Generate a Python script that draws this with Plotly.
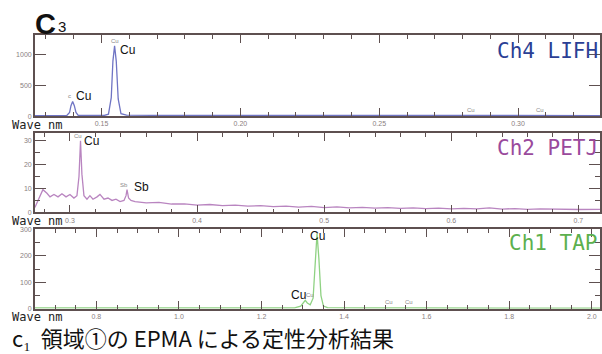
import plotly.graph_objects as go

# --- Ch4 LIFH spectrum (wavelength nm, counts) ---
lifh_nm = [0.126, 0.132, 0.1375, 0.1385, 0.1390, 0.1396, 0.1402, 0.1408, 0.1416, 0.146,
           0.151, 0.1525, 0.1535, 0.1541, 0.1547, 0.1553, 0.1560, 0.1570, 0.159, 0.170,
           0.200, 0.230, 0.260, 0.283, 0.300, 0.308, 0.3295]
lifh_cps = [8, 9, 10, 60, 170, 240, 170, 60, 12, 10,
            10, 30, 300, 900, 1150, 900, 280, 40, 14, 11,
            10, 9, 9, 10, 8, 9, 8]

# --- Ch2 PETJ spectrum ---
petj_nm = [0.2724, 0.2748, 0.2787, 0.2819, 0.2843, 0.2874, 0.2906, 0.2937, 0.2969, 0.3000,
           0.3031, 0.3055, 0.3071, 0.3083, 0.3094, 0.3110, 0.3134, 0.3157, 0.3181, 0.3213,
           0.3236, 0.3268, 0.3299, 0.3331, 0.3362, 0.3394, 0.3425, 0.3441, 0.3449, 0.3461,
           0.3480, 0.3512, 0.360, 0.370, 0.380, 0.390, 0.400, 0.410, 0.420, 0.430,
           0.440, 0.450, 0.460, 0.470, 0.480, 0.490, 0.500, 0.510, 0.520, 0.530,
           0.540, 0.550, 0.560, 0.570, 0.580, 0.590, 0.600, 0.610, 0.620, 0.630,
           0.640, 0.650, 0.660, 0.670, 0.680, 0.690, 0.700, 0.717]
petj_cps = [2, 5, 9.5, 8, 6.5, 7.5, 6.5, 7.8, 6.5, 7.5,
            6, 7, 15, 30, 16, 7, 5.5, 7, 5.5, 6.5,
            7.5, 5.5, 6, 5, 5.5, 4.5, 5, 7, 9.5, 6,
            5, 4.5, 4, 4.2, 3.5, 3.6, 3, 3.3, 2.8, 3,
            2.6, 2.8, 2.4, 2.6, 2.2, 2.5, 2, 2.3, 1.9, 2.1,
            1.8, 2, 1.7, 1.9, 1.6, 1.8, 1.5, 1.7, 1.5, 1.9,
            1.4, 1.6, 1.3, 1.5, 1.3, 1.4, 1.2, 1.3]

# --- Ch1 TAP spectrum ---
tap_nm = [0.651, 0.90, 1.20, 1.28, 1.295, 1.302, 1.306, 1.311, 1.318, 1.325,
          1.330, 1.3345, 1.339, 1.344, 1.350, 1.360, 1.450, 1.505, 1.512, 1.520,
          1.555, 1.562, 1.570, 1.800, 2.020]
tap_cps = [3, 3, 3, 3, 10, 25, 32, 22, 15, 40,
           180, 285, 190, 50, 10, 4, 3, 3, 5, 3,
           3, 4, 3, 2, 2]

# Panel settings
panels = [
    dict(x=lifh_nm, y=lifh_cps, xr=[0.126, 0.3295], yr=[0, 1320], xd=0.05, xm=0.01, fmt=".2f",
         yd=500, ym=None, line="#6f74c4", name="Ch4 LIFH", tc="#2b3f95",
         dom=[1 - 115 / 354, 1 - 33 / 354], wave_y=1 - 124 / 354, name_y=1 - 49 / 354),
    dict(x=petj_nm, y=petj_cps, xr=[0.2724, 0.717], yr=[0, 33.3], xd=0.1, xm=0.02, fmt=".1f",
         yd=10, ym=5, line="#b985c0", name="Ch2 PETJ", tc="#9a4a9c",
         dom=[1 - 213 / 354, 1 - 132 / 354], wave_y=1 - 222 / 354, name_y=1 - 147 / 354),
    dict(x=tap_nm, y=tap_cps, xr=[0.651, 2.02], yr=[0, 302], xd=0.2, xm=0.05, fmt=".1f",
         yd=100, ym=50, line="#8fd283", name="Ch1 TAP", tc="#5cb04e",
         dom=[1 - 311 / 354, 1 - 230 / 354], wave_y=1 - 319 / 354, name_y=1 - 244 / 354),
]

axis_col = "#5e5050"
tick_font = dict(family="Liberation Sans", size=7, color="#8a8080")
label_font = dict(family="Liberation Sans", size=12, color="#111")

fig = go.Figure()
layout = dict(
    width=602, height=354,
    margin=dict(l=0, r=0, t=0, b=0),
    paper_bgcolor="white", plot_bgcolor="white",
    showlegend=False,
)
annotations = []

for i, p in enumerate(panels, start=1):
    xa = "x" if i == 1 else f"x{i}"
    ya = "y" if i == 1 else f"y{i}"
    fig.add_trace(go.Scatter(x=p["x"], y=p["y"], mode="lines", xaxis=xa, yaxis=ya,
                             line=dict(color=p["line"], width=1.3), hoverinfo="skip"))
    xkey = "xaxis" if i == 1 else f"xaxis{i}"
    ykey = "yaxis" if i == 1 else f"yaxis{i}"
    layout[xkey] = dict(
        domain=[35 / 602, 1], range=p["xr"], anchor=ya,
        showgrid=False, zeroline=False, showline=True, linecolor=axis_col, linewidth=1.6,
        mirror="allticks", ticks="inside", ticklen=8, tickwidth=1.2, tickcolor=axis_col,
        dtick=p["xd"], tick0=0, tickformat=p["fmt"], tickfont=tick_font,
        minor=dict(dtick=p["xm"], tick0=0, ticks="inside", ticklen=4, tickwidth=1, tickcolor=axis_col),
    )
    yminor = dict(ticks="inside", ticklen=5, tickwidth=1, tickcolor=axis_col)
    if p["ym"]:
        yminor["dtick"] = p["ym"]
        yminor["tick0"] = 0
    else:
        yminor["ticks"] = ""
    layout[ykey] = dict(
        domain=p["dom"], range=p["yr"], anchor=xa,
        showgrid=False, zeroline=False, showline=True, linecolor=axis_col, linewidth=1.6,
        mirror="allticks", ticks="inside", ticklen=11, tickwidth=1.2, tickcolor=axis_col,
        dtick=p["yd"], tick0=0, tickfont=tick_font, minor=yminor,
    )
    annotations.append(dict(text="Wave nm", xref="paper", yref="paper", x=10 / 602, y=p["wave_y"],
                            xanchor="left", yanchor="middle", showarrow=False,
                            font=dict(family="DejaVu Sans Mono", size=12, color="#222")))
    annotations.append(dict(text=p["name"], xref="paper", yref="paper", x=1.0, y=p["name_y"],
                            xanchor="right", yanchor="middle", showarrow=False,
                            font=dict(family="DejaVu Sans Mono", size=21, color=p["tc"])))

# Peak identification labels: (axis index, x, y, text, anchor, xshift, yshift)
peak_labels = [
    (1, 0.1547, 1150, "Cu", "left", 3, -4),
    (1, 0.1396, 240, "Cu", "left", 1, 5),
    (2, 0.3083, 30, "Cu", "left", 1, 0),
    (2, 0.3449, 9.5, "Sb", "left", 5, 3),
    (3, 1.3345, 285, "Cu", "center", 0, -2),
    (3, 1.306, 32, "Cu", "right", 3, 5),
]
for ax, x, y, t, anc, dx, dy in peak_labels:
    xr = "x" if ax == 1 else f"x{ax}"
    yr = "y" if ax == 1 else f"y{ax}"
    annotations.append(dict(text=t, xref=xr, yref=yr, x=x, y=y, xanchor=anc, yanchor="middle",
                            showarrow=False, xshift=dx, yshift=dy, font=label_font))

# Small grey line markers
small_marks = [
    (1, 0.1547, 1150, "Cu"), (1, 0.1385, 240, "c"), (1, 0.283, 10, "Cu"), (1, 0.308, 10, "Cu"),
    (2, 0.3065, 30, "Cu"), (2, 0.3425, 9.5, "Sb"),
    (3, 1.318, 32, "Cu"), (3, 1.51, 5, "Cu"), (3, 1.557, 5, "Cu"),
]
for ax, x, y, t in small_marks:
    xr = "x" if ax == 1 else f"x{ax}"
    yr = "y" if ax == 1 else f"y{ax}"
    annotations.append(dict(text=t, xref=xr, yref=yr, x=x, y=y, xanchor="center", yanchor="bottom",
                            showarrow=False, font=dict(family="Liberation Sans", size=6, color="#8a8a8a")))

# Figure heading and caption
annotations.append(dict(text="<b>C</b>", xref="paper", yref="paper", x=33 / 602, y=1 - 21 / 354,
                        xanchor="left", yanchor="middle", showarrow=False,
                        font=dict(family="Liberation Sans", size=29, color="#111")))
annotations.append(dict(text="3", xref="paper", yref="paper", x=56 / 602, y=1 - 24 / 354,
                        xanchor="left", yanchor="middle", showarrow=False,
                        font=dict(family="Liberation Sans", size=15, color="#111")))
annotations.append(dict(text="c₁  領域①の EPMA による定性分析結果", xref="paper", yref="paper",
                        x=10 / 602, y=1 - 340 / 354, xanchor="left", yanchor="middle", showarrow=False,
                        font=dict(family="Noto Sans CJK JP", size=22, color="#111")))

layout["annotations"] = annotations
fig.update_layout(**layout)
fig.write_html("out.html")
